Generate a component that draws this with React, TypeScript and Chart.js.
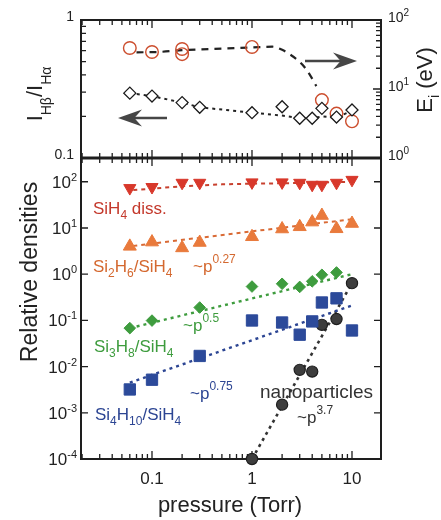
import React, { useEffect, useRef } from 'react';
import { Chart, registerables } from 'chart.js';
Chart.register(...registerables);

const FONT = '"Liberation Sans", Arial, Helvetica, sans-serif';
const W = 441;
const H = 520;

// ---------------- data ----------------
// top panel
const hRatioP = [0.06, 0.1, 0.2, 0.3, 1, 2, 3, 4, 5, 7, 10];
const hRatio = [0.295, 0.281, 0.252, 0.233, 0.213, 0.235, 0.194, 0.194, 0.229, 0.198, 0.223];
const hRatioFitP = [0.06, 0.1, 0.2, 0.3, 1, 2, 3, 4, 5, 7, 10];
const hRatioFit = [0.295, 0.281, 0.252, 0.233, 0.213, 0.203, 0.194, 0.194, 0.2, 0.196, 0.22];
const ionP = [0.06, 0.1, 0.2, 0.2, 1, 5, 7, 10];
const ionE = [39.3, 34.4, 38, 32, 40.7, 6.9, 4.4, 3.4];
const ionFitP = [0.07, 0.12, 0.2, 0.5, 1, 1.6, 2.0, 2.3, 3.2, 3.9, 4.4];
const ionFit = [34, 34.5, 36.5, 38.5, 40, 41, 37, 33, 22.5, 15, 11];

// bottom panel
const pressure = [0.06, 0.1, 0.2, 0.3, 1, 2, 3, 4, 5, 7, 10];
const sih4Diss = [73, 77, 95, 95, 97, 97, 95, 86, 86, 95, 110];
const si2h6 = [4.0, 4.95, 3.7, 4.85, 6.45, 9.5, 10.6, 13.4, 18.6, 9.6, 12.5];
const si3h8P = [0.06, 0.1, 0.3, 1, 2, 3, 4, 5, 7];
const si3h8 = [0.068, 0.099, 0.19, 0.54, 0.62, 0.53, 0.7, 0.97, 1.09];
const si4h10P = [0.06, 0.1, 0.3, 1, 2, 3, 4, 5, 7, 10];
const si4h10 = [0.0032, 0.0052, 0.017, 0.0995, 0.09, 0.049, 0.095, 0.244, 0.3, 0.0605];
const nanoP = [1, 2, 3, 4, 5, 7, 10];
const nano = [1e-4, 0.0015, 0.0085, 0.0078, 0.08, 0.107, 0.64];

const sih4FitP = [0.065, 0.2, 0.5, 1, 3, 10];
const sih4Fit = [66, 80, 88, 91, 94, 100];
const si2h6FitP = [0.065, 10];
const si2h6Fit = [4.1, 15.5];
const si3h8FitP = [0.06, 10];
const si3h8Fit = [0.068, 1.0];
const si4h10FitP = [0.06, 10];
const si4h10Fit = [0.0045, 0.21];
const nanoFitP = [1, 10];
const nanoFit = [1e-4, 0.64];

// ticks
const xTickVals = [0.1, 1, 10];
const xTickLabels = ['0.1', '1', '10'];
const topLeftTickVals = [0.1, 1];
const topLeftTickLabels = ['0.1', '1'];
const topRightTickVals = [1, 10, 100];
const topRightTickExps = ['0', '1', '2'];
const botTickVals = [1e-4, 1e-3, 1e-2, 1e-1, 1, 10, 100];
const botTickExps = ['-4', '-3', '-2', '-1', '0', '1', '2'];

// ranges
const X_MIN = 0.0195;
const X_MAX = 19.5;
const BOT_MIN = 1e-4;
const BOT_MAX = 327;

// layout
const PLOT_LEFT = 81;
const PLOT_RIGHT = 381;
const TOP_T = 20;
const TOP_B = 158;
const BOT_T = 158;
const BOT_B = 459;

const AXIS = '#1e1e1e';
const RED = '#d8382b';
const RED_T = '#c4392c';
const ORANGE = '#e97a3c';
const ORANGE_T = '#d4682f';
const GREEN = '#3e9c3e';
const BLUE = '#2c4a9a';
const BLUE_T = '#2c4593';
const DARK = '#3d3d3d';
const CIRC = '#cc4e2e';

type Seg = { t: string; s: number; dy?: number };

function drawRich(ctx: CanvasRenderingContext2D, segs: Seg[], x: number, y: number, align: string, color: string, rot = 0) {
  ctx.save();
  ctx.fillStyle = color;
  ctx.textBaseline = 'alphabetic';
  ctx.textAlign = 'left';
  let w = 0;
  for (const s of segs) {
    ctx.font = `${s.s}px ${FONT}`;
    w += ctx.measureText(s.t).width;
  }
  ctx.translate(x, y);
  if (rot) ctx.rotate(rot);
  let cx = align === 'left' ? 0 : align === 'right' ? -w : -w / 2;
  for (const s of segs) {
    ctx.font = `${s.s}px ${FONT}`;
    ctx.fillText(s.t, cx, s.dy || 0);
    cx += ctx.measureText(s.t).width;
  }
  ctx.restore();
}

function logTicks(min: number, max: number) {
  const out: { v: number; major: boolean }[] = [];
  const e0 = Math.floor(Math.log10(min));
  const e1 = Math.ceil(Math.log10(max));
  for (let e = e0; e <= e1; e++) {
    for (let m = 1; m <= 9; m++) {
      const v = m * Math.pow(10, e);
      if (v >= min * 0.999 && v <= max * 1.001) out.push({ v, major: m === 1 });
    }
  }
  return out;
}

function drawArrow(ctx: CanvasRenderingContext2D, xTail: number, xTip: number, y: number, color: string) {
  const dir = Math.sign(xTip - xTail);
  const L = 24;
  const hw = 8.5;
  ctx.save();
  ctx.strokeStyle = color;
  ctx.fillStyle = color;
  ctx.lineWidth = 2.5;
  ctx.beginPath();
  ctx.moveTo(xTail, y);
  ctx.lineTo(xTip - dir * L * 0.6, y);
  ctx.stroke();
  ctx.beginPath();
  ctx.moveTo(xTip, y);
  ctx.lineTo(xTip - dir * L, y - hw);
  ctx.lineTo(xTip - dir * L * 0.68, y);
  ctx.lineTo(xTip - dir * L, y + hw);
  ctx.closePath();
  ctx.fill();
  ctx.restore();
}

const xy = (xs: number[], ys: number[]) => xs.map((x, i) => ({ x, y: ys[i] }));

function markers(xs: number[], ys: number[], o: any) {
  return {
    data: xy(xs, ys),
    showLine: false,
    order: 0,
    clip: false,
    pointStyle: o.style,
    pointRadius: o.r,
    pointRotation: o.rot || 0,
    pointBackgroundColor: o.fill,
    pointBorderColor: o.stroke,
    pointBorderWidth: o.bw ?? 1,
    pointHoverRadius: o.r,
    yAxisID: o.axis || 'y',
  };
}

function fitLine(xs: number[], ys: number[], o: any) {
  return {
    data: xy(xs, ys),
    showLine: true,
    order: 2,
    clip: false,
    pointRadius: 0,
    pointHoverRadius: 0,
    borderColor: o.color,
    borderWidth: o.w ?? 2,
    borderDash: o.dash,
    cubicInterpolationMode: o.smooth ? 'monotone' : 'default',
    tension: 0,
    fill: false,
    yAxisID: o.axis || 'y',
  };
}

const topPlugin = {
  id: 'topFrame',
  beforeDatasetsDraw(chart: any) {
    const { ctx, chartArea: a, scales } = chart;
    const x = scales.x, yl = scales.y, yr = scales.y2;
    ctx.save();
    ctx.strokeStyle = AXIS;
    ctx.lineWidth = 1.3;
    ctx.beginPath();
    for (const t of logTicks(X_MIN, X_MAX)) {
      const px = x.getPixelForValue(t.v);
      const len = t.major ? 8 : 5;
      ctx.moveTo(px, a.top); ctx.lineTo(px, a.top + len);
      ctx.moveTo(px, a.bottom); ctx.lineTo(px, a.bottom - len);
    }
    for (const t of logTicks(0.1, 1)) {
      const py = yl.getPixelForValue(t.v);
      ctx.moveTo(a.left, py); ctx.lineTo(a.left + 5, py);
    }
    for (const t of logTicks(1, 100)) {
      const py = yr.getPixelForValue(t.v);
      const len = t.major ? 8 : 5;
      ctx.moveTo(a.right, py); ctx.lineTo(a.right - len, py);
    }
    ctx.stroke();
    ctx.lineWidth = 2;
    ctx.strokeRect(a.left, a.top, a.right - a.left, a.bottom - a.top);
    ctx.lineWidth = 3;
    ctx.beginPath();
    ctx.moveTo(a.left - 1, a.bottom); ctx.lineTo(a.right + 1, a.bottom);
    ctx.stroke();
    ctx.restore();
  },
  afterDatasetsDraw(chart: any) {
    const { ctx, chartArea: a, scales } = chart;
    const yl = scales.y, yr = scales.y2;
    topLeftTickVals.forEach((v, i) => {
      drawRich(ctx, [{ t: topLeftTickLabels[i], s: 14 }], a.left - 7, yl.getPixelForValue(v) + 1, 'right', '#222');
    });
    topRightTickVals.forEach((v, i) => {
      drawRich(ctx, [{ t: '10', s: 14 }, { t: topRightTickExps[i], s: 10, dy: -6 }], a.right + 7, yr.getPixelForValue(v) + 2, 'left', '#222');
    });
    // axis titles
    drawRich(ctx, [
      { t: 'I', s: 22 }, { t: 'Hβ', s: 14, dy: 9 }, { t: '/I', s: 22 }, { t: 'Hα', s: 14, dy: 9 },
    ], 42, 94, 'center', '#222', -Math.PI / 2);
    drawRich(ctx, [
      { t: 'E', s: 22 }, { t: 'i', s: 14, dy: 7 }, { t: ' (eV)', s: 22 },
    ], 432, 80, 'center', '#222', -Math.PI / 2);
    // arrows
    drawArrow(ctx, a.left + 86, a.left + 37, a.top + 98, '#464646');
    drawArrow(ctx, a.left + 224, a.left + 276, a.top + 41, '#464646');
  },
};

const botPlugin = {
  id: 'botFrame',
  beforeDatasetsDraw(chart: any) {
    const { ctx, chartArea: a, scales } = chart;
    const x = scales.x, y = scales.y;
    ctx.save();
    ctx.strokeStyle = AXIS;
    ctx.lineWidth = 1.3;
    ctx.beginPath();
    for (const t of logTicks(X_MIN, X_MAX)) {
      const px = x.getPixelForValue(t.v);
      const len = t.major ? 8 : 5;
      ctx.moveTo(px, a.top); ctx.lineTo(px, a.top + len);
      ctx.moveTo(px, a.bottom); ctx.lineTo(px, a.bottom - len);
    }
    for (const v of botTickVals) {
      const py = y.getPixelForValue(v);
      ctx.moveTo(a.left, py); ctx.lineTo(a.left + 7, py);
      ctx.moveTo(a.right, py); ctx.lineTo(a.right - 7, py);
    }
    ctx.stroke();
    ctx.lineWidth = 2;
    ctx.strokeRect(a.left, a.top, a.right - a.left, a.bottom - a.top);
    ctx.restore();
  },
  afterDatasetsDraw(chart: any) {
    const { ctx, chartArea: a, scales } = chart;
    const x = scales.x, y = scales.y;
    botTickVals.forEach((v, i) => {
      drawRich(ctx, [{ t: '10', s: 17 }, { t: botTickExps[i], s: 11, dy: -7 }], a.left - 4, y.getPixelForValue(v) + 6, 'right', '#222');
    });
    xTickVals.forEach((v, i) => {
      drawRich(ctx, [{ t: xTickLabels[i], s: 17 }], x.getPixelForValue(v), a.bottom + 25, 'center', '#222');
    });
    drawRich(ctx, [{ t: 'Relative densities', s: 23 }], 37, 272, 'center', '#222', -Math.PI / 2);
    drawRich(ctx, [{ t: 'pressure (Torr)', s: 22 }], 230, 512, 'center', '#222');

    const L = a.left, T = a.top;
    drawRich(ctx, [{ t: 'SiH', s: 17 }, { t: '4', s: 12, dy: 5 }, { t: ' diss.', s: 17 }], L + 12, T + 56, 'left', RED_T);
    drawRich(ctx, [
      { t: 'Si', s: 17 }, { t: '2', s: 12, dy: 5 }, { t: 'H', s: 17 }, { t: '6', s: 12, dy: 5 },
      { t: '/SiH', s: 17 }, { t: '4', s: 12, dy: 5 },
    ], L + 12, T + 114, 'left', ORANGE_T);
    drawRich(ctx, [{ t: '~p', s: 17 }, { t: '0.27', s: 12, dy: -9 }], L + 112, T + 114, 'left', ORANGE_T);
    drawRich(ctx, [{ t: '~p', s: 17 }, { t: '0.5', s: 12, dy: -9 }], L + 102, T + 173, 'left', GREEN);
    drawRich(ctx, [
      { t: 'Si', s: 17 }, { t: '3', s: 12, dy: 5 }, { t: 'H', s: 17 }, { t: '8', s: 12, dy: 5 },
      { t: '/SiH', s: 17 }, { t: '4', s: 12, dy: 5 },
    ], L + 13, T + 194, 'left', GREEN);
    drawRich(ctx, [{ t: '~p', s: 17 }, { t: '0.75', s: 12, dy: -9 }], L + 109, T + 241, 'left', BLUE_T);
    drawRich(ctx, [
      { t: 'Si', s: 17 }, { t: '4', s: 12, dy: 5 }, { t: 'H', s: 17 }, { t: '10', s: 12, dy: 5 },
      { t: '/SiH', s: 17 }, { t: '4', s: 12, dy: 5 },
    ], L + 14, T + 262, 'left', BLUE_T);
    drawRich(ctx, [{ t: 'nanoparticles', s: 19 }], L + 179, T + 240, 'left', '#333');
    drawRich(ctx, [{ t: '~p', s: 17 }, { t: '3.7', s: 12, dy: -9 }], L + 216, T + 265, 'left', '#333');
  },
};

function baseOptions(padTop: number, padBottom: number, scales: any) {
  return {
    responsive: false,
    animation: false as const,
    events: [] as any[],
    layout: { padding: { left: PLOT_LEFT, right: W - PLOT_RIGHT, top: padTop, bottom: padBottom } },
    scales,
    plugins: { legend: { display: false }, tooltip: { enabled: false } },
  };
}

export default function App() {
  const topRef = useRef<HTMLCanvasElement>(null);
  const botRef = useRef<HTMLCanvasElement>(null);

  useEffect(() => {
    const top = new Chart(topRef.current as HTMLCanvasElement, {
      type: 'scatter',
      data: {
        datasets: [
          fitLine(ionFitP, ionFit, { color: '#222', w: 2.2, dash: [7, 6], smooth: true, axis: 'y2' }),
          fitLine(hRatioFitP, hRatioFit, { color: '#222', w: 2, dash: [3, 4] }),
          markers(hRatioP, hRatio, { style: 'rectRot', r: 6, fill: '#ffffff', stroke: '#1a1a1a', bw: 1.3 }),
          markers(ionP, ionE, { style: 'circle', r: 6.3, fill: 'rgba(255,255,255,0)', stroke: CIRC, bw: 1.4, axis: 'y2' }),
        ] as any,
      },
      options: baseOptions(TOP_T, H - TOP_B, {
        x: { type: 'logarithmic', min: X_MIN, max: X_MAX, display: false },
        y: { type: 'logarithmic', min: 0.1, max: 1, display: false },
        y2: { type: 'logarithmic', min: 1, max: 100, display: false, position: 'right' },
      }) as any,
      plugins: [topPlugin],
    });

    const bot = new Chart(botRef.current as HTMLCanvasElement, {
      type: 'scatter',
      data: {
        datasets: [
          fitLine(sih4FitP, sih4Fit, { color: '#c8402e', w: 2, dash: [4, 4] }),
          fitLine(si2h6FitP, si2h6Fit, { color: '#d96a35', w: 2, dash: [4, 4] }),
          fitLine(si3h8FitP, si3h8Fit, { color: GREEN, w: 2.4, dash: [3, 4] }),
          fitLine(si4h10FitP, si4h10Fit, { color: BLUE_T, w: 2.4, dash: [3, 4] }),
          fitLine(nanoFitP, nanoFit, { color: '#333', w: 2.6, dash: [3, 4] }),
          markers(pressure, sih4Diss, { style: 'triangle', r: 7, rot: 180, fill: RED, stroke: RED }),
          markers(pressure, si2h6, { style: 'triangle', r: 7.5, fill: ORANGE, stroke: ORANGE }),
          markers(si3h8P, si3h8, { style: 'rectRot', r: 5.8, fill: GREEN, stroke: GREEN }),
          markers(si4h10P, si4h10, { style: 'rect', r: 8, fill: BLUE, stroke: BLUE }),
          markers(nanoP, nano, { style: 'circle', r: 5.6, fill: DARK, stroke: '#1e1e1e', bw: 1.2 }),
        ] as any,
      },
      options: baseOptions(BOT_T, H - BOT_B, {
        x: { type: 'logarithmic', min: X_MIN, max: X_MAX, display: false },
        y: { type: 'logarithmic', min: BOT_MIN, max: BOT_MAX, display: false },
      }) as any,
      plugins: [botPlugin],
    });

    return () => {
      top.destroy();
      bot.destroy();
    };
  }, []);

  return (
    <div style={{ position: 'absolute', left: 0, top: 0, width: W, height: H, background: '#ffffff' }}>
      <canvas ref={botRef} width={W} height={H} style={{ position: 'absolute', left: 0, top: 0 }} />
      <canvas ref={topRef} width={W} height={H} style={{ position: 'absolute', left: 0, top: 0 }} />
    </div>
  );
}
